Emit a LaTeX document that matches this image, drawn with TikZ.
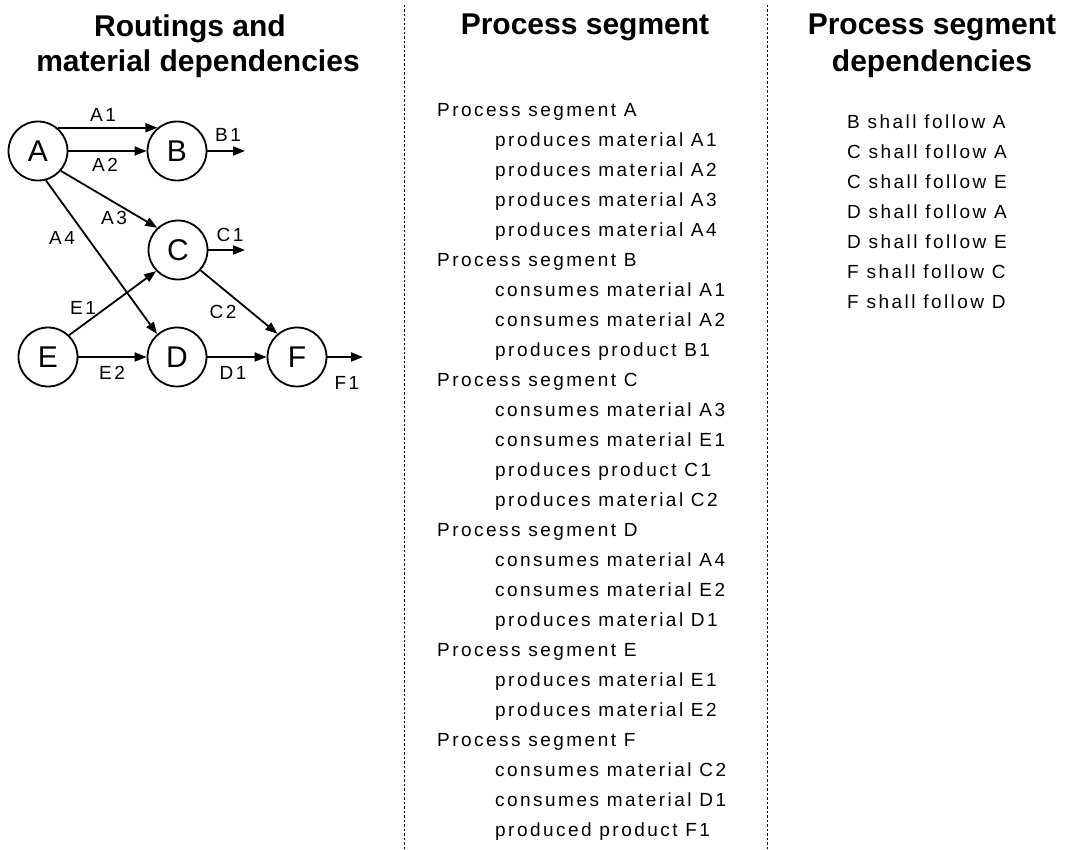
\documentclass[tikz,border=0pt]{standalone}
\usepackage{fontspec}
\setmainfont{Liberation Sans}
\newfontfamily\bodyf[LetterSpace=13]{Liberation Sans}
\usetikzlibrary{arrows.meta}
\begin{document}
\begin{tikzpicture}[x=1pt,y=-1pt,
  state/.style={circle, draw, line width=1.8pt, minimum size=59pt, inner sep=0pt, font=\fontsize{30}{30}\selectfont},
  edge/.style={line width=1.8pt, -{Triangle[length=12pt,width=9pt]}},
  lbl/.style={font=\bodyf\fontsize{19}{20}\selectfont, inner sep=0pt},
  head/.style={font=\bfseries\fontsize{30}{37}\selectfont, anchor=base, inner sep=0pt},
  ln/.style={font=\bodyf\fontsize{19}{20}\selectfont, anchor=base west, inner sep=0pt},
  sep/.style={line width=0.9pt, dash pattern=on 2.5pt off 2pt}]
\fill[white] (0,0) rectangle (1067,850);
\useasboundingbox (0,0) rectangle (1067,850);
% headings
\node[head] (h1a) at (190,36.7) {Routings and};
\node[head] (h1b) at (198,71.7) {material dependencies};
\node[head] (h2) at (585,35) {Process segment};
\node[head] (h3a) at (932,35) {Process segment};
\node[head] (h3b) at (932,72) {dependencies};
% separators
\draw[sep] (404,5) -- (404,850);
\draw[sep] (767,5) -- (767,850);
% graph nodes
\node[state] (A) at (38,151) {A};
\node[state] (B) at (177,151) {B};
\node[state] (C) at (178,250) {C};
\node[state] (D) at (177,357) {D};
\node[state] (E) at (48,357) {E};
\node[state] (F) at (297,357) {F};
\coordinate (b1) at (245,151);
\coordinate (c1) at (245,250);
\coordinate (f1) at (363,357);
% edges
\draw[edge] (A.50) -- (B.130);
\draw[edge] (A) -- (B);
\draw[edge] (A.-41) -- (C.133);
\draw[edge] (A.-75) -- (D.131);
\draw[edge] (E.46) -- (C.-136);
\draw[edge] (E) -- (D);
\draw[edge] (C.-42) -- (F.130);
\draw[edge] (D) -- (F);
\draw[edge] (B.east) -- (b1);
\draw[edge] (C.east) -- (c1);
\draw[edge] (F.east) -- (f1);
% edge labels
\node[lbl] (lA1) at (103,115) {A1};
\node[lbl] (lA2) at (105,165) {A2};
\node[lbl] (lB1) at (228,135) {B1};
\node[lbl] (lA3) at (114,218) {A3};
\node[lbl] (lA4) at (62,238) {A4};
\node[lbl] (lC1) at (230,235) {C1};
\node[lbl] (lE1) at (83,308) {E1};
\node[lbl] (lC2) at (223,312) {C2};
\node[lbl] (lE2) at (112,373) {E2};
\node[lbl] (lD1) at (233,373) {D1};
\node[lbl] (lF1) at (347,383) {F1};
% middle column
\foreach \ind/\t [count=\i from 0] in {
  0/Process segment A, 1/produces material A1, 1/produces material A2, 1/produces material A3, 1/produces material A4,
  0/Process segment B, 1/consumes material A1, 1/consumes material A2, 1/produces product B1,
  0/Process segment C, 1/consumes material A3, 1/consumes material E1, 1/produces product C1, 1/produces material C2,
  0/Process segment D, 1/consumes material A4, 1/consumes material E2, 1/produces material D1,
  0/Process segment E, 1/produces material E1, 1/produces material E2,
  0/Process segment F, 1/consumes material C2, 1/consumes material D1, 1/produced product F1}
  { \node[ln, name=m\i] at ({437+58*\ind},{116.5+30*\i}) {\t}; }
% right column
\foreach \t [count=\i from 0] in {B shall follow A, C shall follow A, C shall follow E, D shall follow A, D shall follow E, F shall follow C, F shall follow D}
  { \node[ln, name=r\i] at (847,{128.5+30*\i}) {\t}; }
\end{tikzpicture}
\end{document}
